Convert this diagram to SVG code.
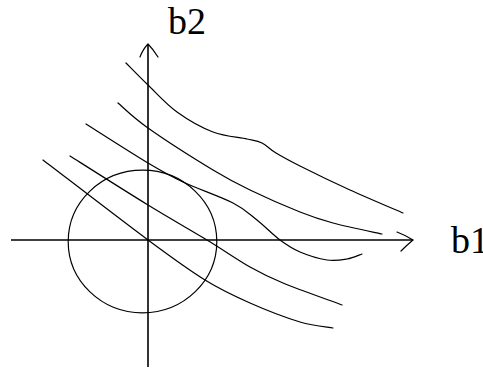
<svg xmlns="http://www.w3.org/2000/svg" width="483" height="369" viewBox="0 0 483 369">
<style>
.axis{fill:none;stroke:#000;stroke-width:1.6}
.curve{fill:none;stroke:#000;stroke-width:1.2;stroke-linecap:round}
.lbl{font-family:"Liberation Serif","Times New Roman",serif;font-size:38px;fill:#000}
</style>
<rect width="483" height="369" fill="#fff"/>
<g id="axes">
<path class="axis" d="M148,367 L148,44"/>
<path class="axis" d="M11,240 L413,240"/>
<path class="curve" d="M140,57 Q143,49 148,44 Q153,49 158,57"/>
<path class="curve" d="M397,232 Q405,235 413,240 Q407,245 401,251"/>
</g>
<g id="circle">
<ellipse class="curve" cx="142.5" cy="241.5" rx="74.3" ry="71.3"/>
</g>
<g id="curves">
<path class="curve" d="M126,63 C129.7,66.7 139.5,76.8 148,85 C156.5,93.2 166.2,104.2 177,112 C187.8,119.8 201.3,127.5 213,132 C224.7,136.5 238.8,137.2 247,139 C255.2,140.8 257.2,140.7 262,143 C266.8,145.3 269.7,149.2 276,153 C282.3,156.8 287.7,159.8 300,166 C312.3,172.2 332.8,182.2 350,190 C367.2,197.8 394.2,209.2 403,213"/>
<path class="curve" d="M118,103 C123,107.2 132.2,116.8 148,128 C163.8,139.2 196,159.7 213,170 C230,180.3 235.5,183 250,190 C264.5,197 286.2,206.5 300,212 C313.8,217.5 319.3,219.3 333,223 C346.7,226.7 373.8,232.2 382,234"/>
<path class="curve" d="M86,124 C96.3,130.5 131.8,153.3 148,163 C164.2,172.7 168.8,175.3 183,182 C197.2,188.7 220.7,196.7 233,203 C245.3,209.3 249.2,213.8 257,220 C264.8,226.2 272.8,234.7 280,240 C287.2,245.3 292.2,248.7 300,252 C307.8,255.3 319.2,258.8 327,260 C334.8,261.2 341.2,260 347,259 C352.8,258 359.5,254.8 362,254"/>
<path class="curve" d="M70,156 C83,164.2 125.2,191 148,205 C170.8,219 190,229.7 207,240 C224,250.3 237.3,259.8 250,267 C262.7,274.2 267.7,276.7 283,283 C298.3,289.3 332.2,301.3 342,305"/>
<path class="curve" d="M43,160 C60.5,173.3 121,220 148,240 C175,260 188,269.5 205,280 C222,290.5 234.2,296 250,303 C265.8,310 286.2,317.8 300,322 C313.8,326.2 327.5,327 333,328"/>
</g>
<g id="labels">
<text class="lbl" x="168" y="34">b2</text>
<text class="lbl" x="451" y="253">b1</text>
</g>
</svg>
